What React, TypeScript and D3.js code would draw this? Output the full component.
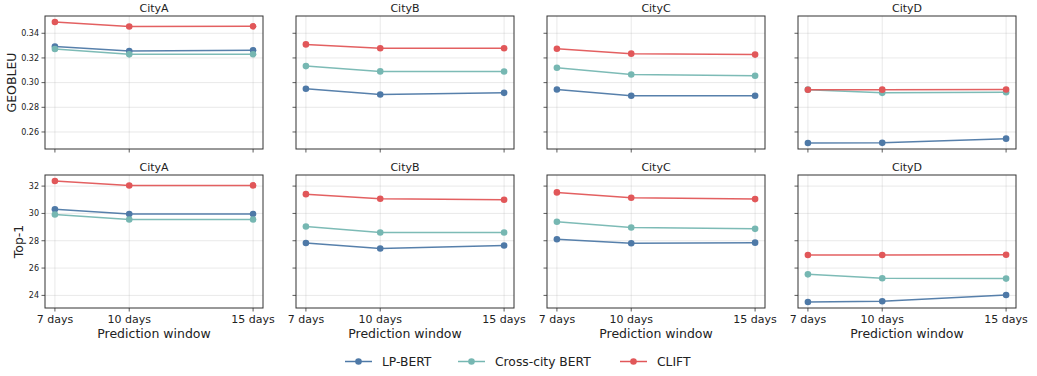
import React from 'react'
import { scaleLinear, line, extent } from 'd3'

const cities = ['CityA', 'CityB', 'CityC', 'CityD']
const windows = [7, 10, 15]
const windowLabels = ['7 days', '10 days', '15 days']

const series = ['LP-BERT', 'Cross-city BERT', 'CLIFT']
const colors = ['#4e79a7', '#76b7b2', '#e15759']

// GEOBLEU, one row per city
const geoLpBert = [
  [0.3292, 0.3256, 0.3263],
  [0.2950, 0.2904, 0.2917],
  [0.2944, 0.2893, 0.2893],
  [0.2511, 0.2512, 0.2546],
]
const geoCrossCity = [
  [0.3272, 0.3229, 0.3230],
  [0.3134, 0.3091, 0.3090],
  [0.3121, 0.3066, 0.3056],
  [0.2943, 0.2917, 0.2922],
]
const geoClift = [
  [0.3491, 0.3455, 0.3456],
  [0.3310, 0.3278, 0.3278],
  [0.3275, 0.3235, 0.3227],
  [0.2942, 0.2943, 0.2944],
]

// Top-1 accuracy, one row per city
const topLpBert = [
  [30.31, 29.95, 29.96],
  [27.84, 27.43, 27.65],
  [28.11, 27.82, 27.86],
  [23.52, 23.57, 24.03],
]
const topCrossCity = [
  [29.92, 29.55, 29.55],
  [29.04, 28.60, 28.60],
  [29.39, 28.97, 28.87],
  [25.54, 25.25, 25.23],
]
const topClift = [
  [32.37, 32.04, 32.05],
  [31.41, 31.07, 31.00],
  [31.54, 31.15, 31.05],
  [26.96, 26.96, 26.98],
]

const rows = [
  { label: 'GEOBLEU', data: [geoLpBert, geoCrossCity, geoClift], fmt: (v: number) => v.toFixed(2) },
  { label: 'Top-1', data: [topLpBert, topCrossCity, topClift], fmt: (v: number) => String(Math.round(v)) },
]

const W = 1037
const H = 376
const panelW = 218
const panelStep = 251
const firstLeft = 45
const rowTops = [16, 175]
const panelH = 133
const font = 'DejaVu Sans, sans-serif'

// matplotlib-ish 5% padding
const padded = (lo: number, hi: number): [number, number] => {
  const m = (hi - lo) * 0.05
  return [lo - m, hi + m]
}

const Panel = ({ row, rowIdx, cityIdx }: any) => {
  const left = firstLeft + cityIdx * panelStep
  const top = rowTops[rowIdx]
  const all = row.data.flat(2) as number[]
  const [lo, hi] = extent(all) as [number, number]
  const y = scaleLinear().domain(padded(lo, hi)).range([top + panelH, top])
  const x = scaleLinear().domain(padded(7, 15)).range([left, left + panelW])
  const yTicks = y.ticks(5)
  const path = line<number>().x((d, i) => x(windows[i])).y(d => y(d))
  const bottomRow = rowIdx === 1

  return (
    <g>
      {yTicks.map(t => (
        <line key={'gy' + t} x1={left} x2={left + panelW} y1={y(t)} y2={y(t)} stroke="#b0b0b0" strokeOpacity={0.35} strokeWidth={0.8} />
      ))}
      {windows.map(w => (
        <line key={'gx' + w} x1={x(w)} x2={x(w)} y1={top} y2={top + panelH} stroke="#b0b0b0" strokeOpacity={0.35} strokeWidth={0.8} />
      ))}
      {row.data.map((s: number[][], si: number) => (
        <g key={si}>
          <path d={path(s[cityIdx]) || ''} fill="none" stroke={colors[si]} strokeWidth={1.5} strokeOpacity={0.95} />
          {s[cityIdx].map((v, i) => (
            <circle key={i} cx={x(windows[i])} cy={y(v)} r={3.3} fill={colors[si]} />
          ))}
        </g>
      ))}
      <rect x={left} y={top} width={panelW} height={panelH} fill="none" stroke="#333" strokeWidth={1} />
      {yTicks.map(t => (
        <g key={'ty' + t}>
          <line x1={left - 3.5} x2={left} y1={y(t)} y2={y(t)} stroke="#333" strokeWidth={0.8} />
          {cityIdx === 0 && (
            <text x={left - 6} y={y(t)} dy="0.35em" textAnchor="end" fontSize={8} fontFamily={font} fill="#222">
              {row.fmt(t)}
            </text>
          )}
        </g>
      ))}
      {windows.map((w, i) => (
        <g key={'tx' + w}>
          <line x1={x(w)} x2={x(w)} y1={top + panelH} y2={top + panelH + 3.5} stroke="#333" strokeWidth={0.8} />
          {bottomRow && (
            <text x={x(w)} y={top + panelH + 14.5} textAnchor="middle" fontSize={11} fontFamily={font} fill="#222">
              {windowLabels[i]}
            </text>
          )}
        </g>
      ))}
      <text x={left + panelW / 2} y={top - 3.7} textAnchor="middle" fontSize={11} fontFamily={font} fill="#222">
        {cities[cityIdx]}
      </text>
      {bottomRow && (
        <text x={left + panelW / 2} y={top + panelH + 30} textAnchor="middle" fontSize={12.5} fontFamily={font} fill="#222">
          Prediction window
        </text>
      )}
    </g>
  )
}

const legendLines = [345, 458, 620]

export default function App() {
  return (
    <svg width={W} height={H} style={{ position: 'absolute', left: 0, top: 0, background: '#fff' }}>
      {rows.map((row, ri) => (
        <g key={ri}>
          {cities.map((c, ci) => (
            <Panel key={c} row={row} rowIdx={ri} cityIdx={ci} />
          ))}
          <text
            transform={`translate(${ri === 0 ? 16 : 23},${rowTops[ri] + panelH / 2}) rotate(-90)`}
            textAnchor="middle"
            fontSize={12.5}
            fontFamily={font}
            fill="#222"
          >
            {row.label}
          </text>
        </g>
      ))}
      {series.map((s, i) => (
        <g key={s}>
          <line x1={legendLines[i]} x2={legendLines[i] + 27} y1={361.5} y2={361.5} stroke={colors[i]} strokeWidth={1.5} />
          <circle cx={legendLines[i] + 13.5} cy={361.5} r={3.3} fill={colors[i]} />
          <text x={legendLines[i] + 37} y={361.5} dy="0.35em" fontSize={12.3} fontFamily={font} fill="#222">
            {s}
          </text>
        </g>
      ))}
    </svg>
  )
}
